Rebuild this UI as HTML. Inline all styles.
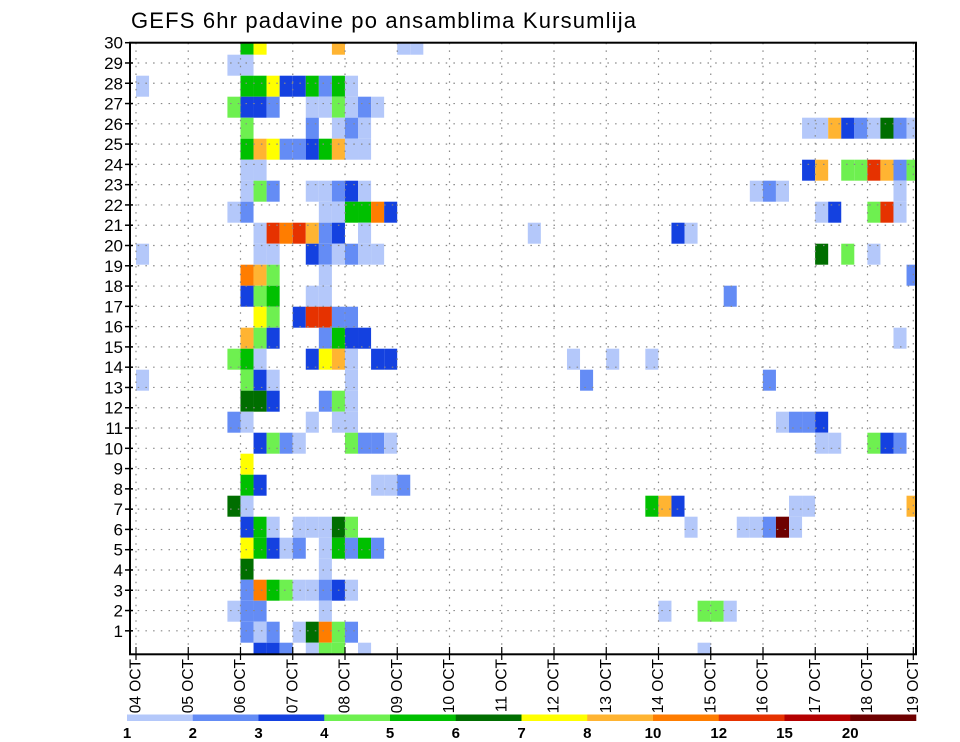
<!DOCTYPE html>
<html><head><meta charset="utf-8"><style>
html,body{margin:0;padding:0;background:#fff;}
svg{display:block;font-family:"Liberation Sans",sans-serif;}
</style></head><body>
<svg id="chart" width="960" height="742" viewBox="0 0 960 742" xmlns="http://www.w3.org/2000/svg">
<rect width="960" height="742" fill="#fff"/>
<text x="131" y="28" font-size="22" textLength="505" lengthAdjust="spacing" fill="#000">GEFS 6hr padavine po ansamblima Kursumlija</text>
<g id="cells"></g>
<g id="grid"></g>
<rect x="130" y="42.7" width="786" height="611.6" fill="none" stroke="#000" stroke-width="2"/>
<g id="yaxis"></g>
<g id="xaxis"></g>
<g id="legend"></g>
</svg>
<script>
// ensemble member, 6h step index (from 04 OCT 00Z), precipitation mm
const cellMember = [30,30,30,30,30, 29,29, 28,28,28,28,28,28,28,28,28,28,
27,27,27,27,27,27,27,27,27,27,
26,26,26,26,26,26,26,26,26,26,26,26,26,26,
25,25,25,25,25,25,25,25,25,25,
24,24,24,24,24,24,24,24,24,24,
23,23,23,23,23,23,23,23,23,23,23,23,
22,22,22,22,22,22,22,22,22,22,22,22,22,
21,21,21,21,21,21,21,21,21,21,21,
20,20,20,20,20,20,20,20,20,20,20,20,
19,19,19,19,19,
18,18,18,18,18,18,
17,17,17,17,17,17,17,
16,16,16,16,16,16,16,16,
15,15,15,15,15,15,15,15,15,15,15,15,
14,14,14,14,14,14,14,
13,13,13,13,13,13,
12,12,12,12,12,12,12,12,12,
11,11,11,11,11,11,11,11,11,11,11,11,11,
10,
9,9,9,9,9,
8,8,8,8,8,8,8,8,
7,7,7,7,7,7,7,7,7,7,7,7,7,7,
6,6,6,6,6,6,6,6,6,6,
5,5,
4,4,4,4,4,4,4,4,4,
3,3,3,3,3,3,3,3,
2,2,2,2,2,2,2,2,
1,1,1,1,1,1,1,1];
const cellStep = [8,9,15,20,21, 7,8, 0,8,9,10,11,12,13,14,15,16,
7,8,9,10,13,14,15,16,17,18,
8,13,15,16,17,51,52,53,54,55,56,57,58,59,
8,9,10,11,12,13,14,15,16,17,
8,9,51,52,54,55,56,57,58,59,
8,9,10,13,14,15,16,17,47,48,49,58,
7,8,14,15,16,17,18,19,52,53,56,57,58,
9,10,11,12,13,14,15,17,30,41,42,
0,9,10,13,14,15,16,17,18,52,54,56,
8,9,10,14,59,
8,9,10,13,14,45,
9,10,12,13,14,15,16,
8,9,10,14,15,16,17,58,
7,8,9,13,14,15,16,18,19,33,36,39,
0,8,9,10,16,34,48,
8,9,10,14,15,16,
7,8,13,15,16,49,50,51,52,
9,10,11,12,16,17,18,19,52,53,56,57,58,
8,
8,9,18,19,20,
7,8,39,40,41,50,51,59,
8,9,10,12,13,14,15,16,42,46,47,48,49,50,
8,9,10,11,12,14,15,16,17,18,
8,14,
8,9,10,11,12,13,14,15,16,
7,8,9,14,40,43,44,45,
8,9,10,12,13,14,15,16,
9,10,11,13,14,15,17,43];
const cellPrecip = [5.5,7.5,9,1.5,1.5, 1.5,1.5, 1.5,5.5,5.5,7.5,3.5,3.5,5.5,2.5,5.5,1.5,
4.5,3.5,3.5,2.5,1.5,1.5,4.5,1.5,2.5,1.5,
4.5,2.5,1.5,2.5,1.5,1.5,1.5,9,3.5,2.5,1.5,6.5,2.5,1.5,
5.5,9,7.5,2.5,2.5,3.5,5.5,9,1.5,1.5,
1.5,1.5,3.5,9,4.5,4.5,13,9,2.5,4.5,
1.5,4.5,2.5,1.5,1.5,2.5,3.5,1.5,1.5,2.5,1.5,1.5,
1.5,2.5,1.5,1.5,5.5,5.5,11,3.5,1.5,3.5,4.5,13,1.5,
1.5,13,11,13,9,2.5,3.5,1.5,1.5,3.5,1.5,
1.5,1.5,1.5,3.5,2.5,1.5,2.5,1.5,1.5,6.5,4.5,1.5,
11,9,4.5,1.5,2.5,
3.5,4.5,5.5,1.5,1.5,2.5,
7.5,4.5,3.5,13,13,2.5,2.5,
9,4.5,3.5,2.5,5.5,3.5,3.5,1.5,
4.5,5.5,1.5,3.5,7.5,9,1.5,3.5,3.5,1.5,1.5,1.5,
1.5,4.5,3.5,1.5,1.5,2.5,2.5,
6.5,6.5,3.5,2.5,4.5,1.5,
2.5,1.5,1.5,1.5,1.5,1.5,2.5,2.5,3.5,
3.5,4.5,2.5,1.5,4.5,2.5,2.5,1.5,1.5,1.5,4.5,3.5,2.5,
7.5,
5.5,3.5,1.5,1.5,2.5,
6.5,1.5,5.5,9,3.5,1.5,1.5,9,
3.5,5.5,1.5,1.5,1.5,1.5,6.5,4.5,1.5,1.5,1.5,2.5,25,1.5,
7.5,5.5,3.5,1.5,2.5,1.5,5.5,2.5,5.5,2.5,
6.5,1.5,
2.5,11,5.5,4.5,1.5,1.5,2.5,3.5,1.5,
1.5,2.5,2.5,1.5,1.5,4.5,4.5,1.5,
2.5,1.5,2.5,1.5,6.5,11,4.5,2.5,
3.5,3.5,2.5,1.5,4.5,4.5,1.5,1.5];
const levelBounds = [1,2,3,4,5,6,7,8,10,12,15,20];
const levelLabels = ["1","2","3","4","5","6","7","8","10","12","15","20"];
const levelColors = ["#b4c8fa","#648cf5","#1441e0","#6ef050","#00c000","#006e00","#ffff00","#ffb432","#ff7d00","#e63200","#b40000","#6e0000"];
const dayLabels = ["04 OCT","05 OCT","06 OCT","07 OCT","08 OCT","09 OCT","10 OCT","11 OCT","12 OCT","13 OCT","14 OCT","15 OCT","16 OCT","17 OCT","18 OCT","19 OCT"];
const memberTicks = [1,2,3,4,5,6,7,8,9,10,11,12,13,14,15,16,17,18,19,20,21,22,23,24,25,26,27,28,29,30];

const NS = "http://www.w3.org/2000/svg";
const PL = 130, PR = 916, PT = 42.7, PB = 654.3;
function xStep(s){ return 136 + s * 13.06; }
function xDay(d){ return Math.min(913.3, 136 + d * 52.25); }
function yRowTop(m){ return 33.7 + 21 * (30 - m); }
function yTick(v){ return 42.7 + (30 - v) * 20.28; }
function colorFor(v){
  let idx = -1;
  for (let i = 0; i < levelBounds.length; i++) if (v >= levelBounds[i]) idx = i;
  return idx < 0 ? null : levelColors[idx];
}
function mk(tag, attrs, parent){
  const el = document.createElementNS(NS, tag);
  for (const k in attrs) el.setAttribute(k, attrs[k]);
  parent.appendChild(el);
  return el;
}
const gC = document.getElementById("cells");
for (let i = 0; i < cellMember.length; i++){
  const c = colorFor(cellPrecip[i]);
  if (!c) continue;
  let x0 = xStep(cellStep[i]), x1 = xStep(cellStep[i] + 1);
  let y0 = yRowTop(cellMember[i]), y1 = y0 + 21;
  x0 = Math.max(x0, PL); x1 = Math.min(x1, PR);
  y0 = Math.max(y0, PT); y1 = Math.min(y1, PB);
  if (x1 <= x0 || y1 <= y0) continue;
  const r = mk("rect", {x:x0, y:y0, width:x1-x0, height:y1-y0, fill:c}, gC);
  
  
}
const gG = document.getElementById("grid");
for (const v of memberTicks){
  const l = mk("line", {x1:PL, x2:PR, y1:yTick(v), y2:yTick(v), stroke:"#888", "stroke-width":1.2, "stroke-dasharray":"1.5,6.2"}, gG);
  
  
}
for (let d = 0; d < dayLabels.length; d++){
  const x = xDay(d);
  const l = mk("line", {x1:x, x2:x, y1:PT, y2:PB, stroke:"#888", "stroke-width":1.2, "stroke-dasharray":"1.5,6.2"}, gG);
  
  
}
const gY = document.getElementById("yaxis");
for (const v of memberTicks){
  const y = yTick(v);
  const t = mk("line", {x1:125, x2:133, y1:y, y2:y, stroke:"#000", "stroke-width":1.5}, gY);
  
  
  const lb = mk("text", {x:123, y:y+6, "font-size":17, "text-anchor":"end", fill:"#000"}, gY);
  lb.textContent = String(v);
  
  
}
const gX = document.getElementById("xaxis");
for (let d = 0; d < dayLabels.length; d++){
  const x = xDay(d);
  const t = mk("line", {x1:x, x2:x, y1:647, y2:660, stroke:"#000", "stroke-width":1.2}, gX);
  
  
  const lb = mk("text", {x:0, y:0, "font-size":15.5, "text-anchor":"end", "dominant-baseline":"central", transform:"translate("+x+",659) rotate(-90)", fill:"#000"}, gX);
  lb.textContent = dayLabels[d];
  
  
}
const gL = document.getElementById("legend");
const LW = (916 - 127) / levelColors.length;
for (let i = 0; i < levelColors.length; i++){
  const r = mk("rect", {x:127 + i*LW, y:714.5, width:LW + 0.3, height:6.5, fill:levelColors[i]}, gL);
  
  
  const lb = mk("text", {x:127 + i*LW, y:738, "font-size":15, "font-weight":"bold", "text-anchor":"middle", fill:"#000"}, gL);
  lb.textContent = levelLabels[i];
  
  
}
</script>
</body></html>
